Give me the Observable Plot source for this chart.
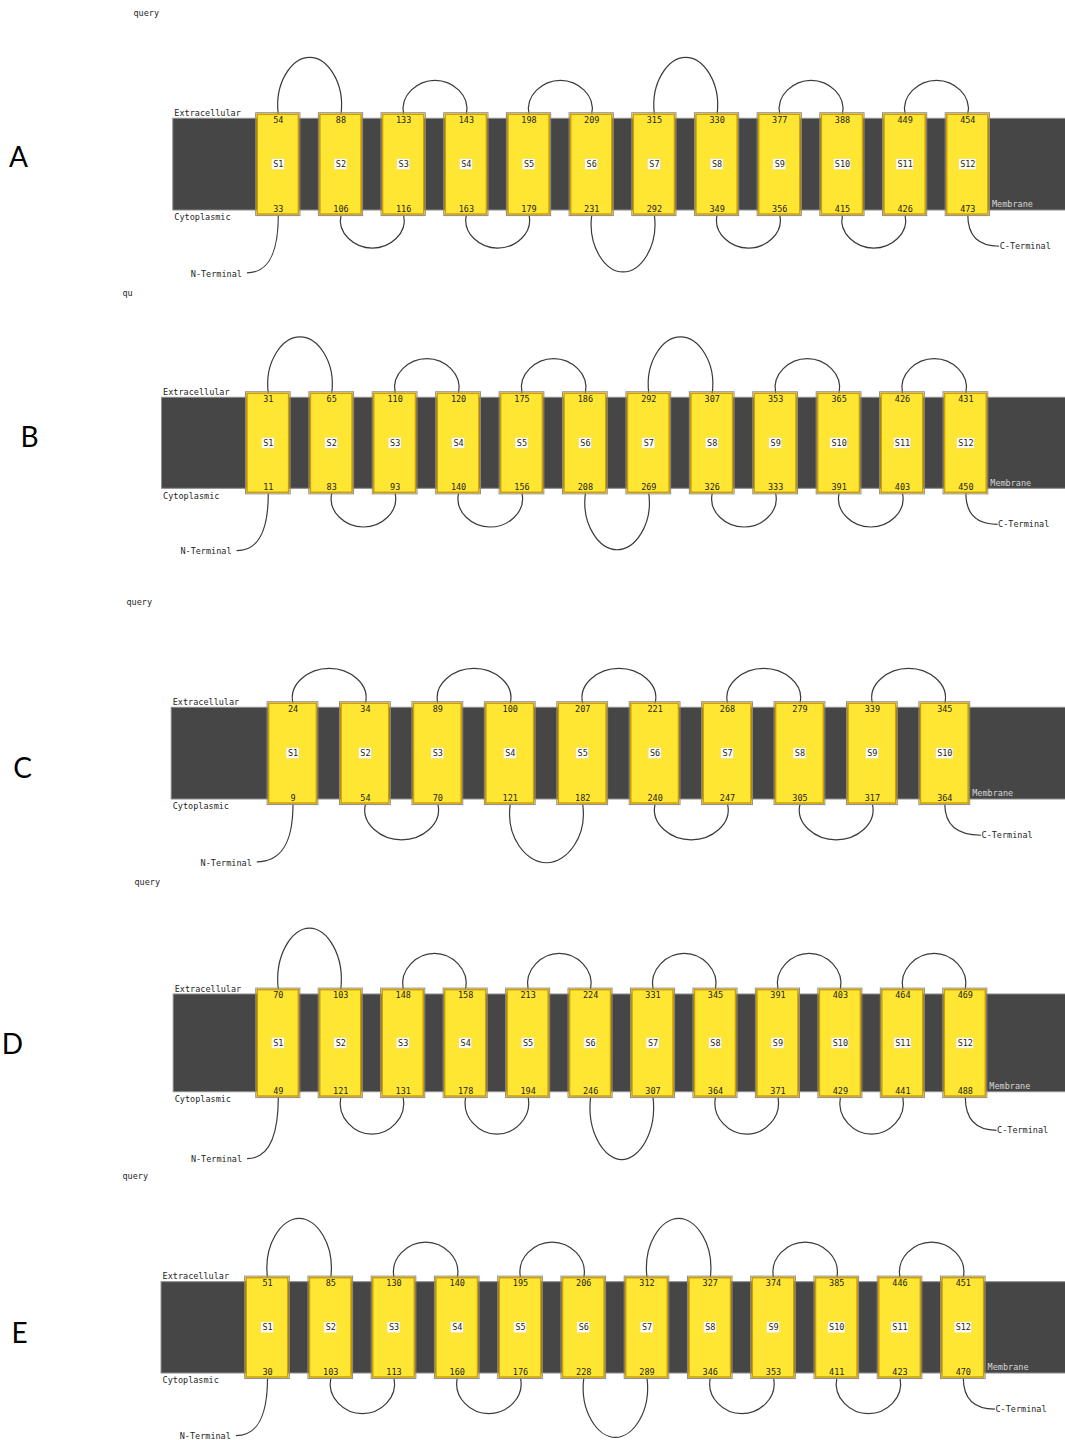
<!DOCTYPE html>
<html>
<head>
<meta charset="utf-8">
<script src="https://cdn.jsdelivr.net/npm/d3@7"></script>
<script src="https://cdn.jsdelivr.net/npm/@observablehq/plot@0.6"></script>
<style>
  html, body { margin: 0; padding: 0; background: #fff; }
  #chart { width: 1065px; }
  #chart svg { display: block; }
</style>
</head>
<body>
<div id="chart"></div>
<script>
// ---------- DATA ----------
const panelIds = ["A", "B", "C", "D", "E"];
const queryLabels = ["query", "qu", "query", "query", "query"];

// residue numbers at the extracellular (top) and cytoplasmic (bottom) end of each helix
const topA = [54, 88, 133, 143, 198, 209, 315, 330, 377, 388, 449, 454];
const botA = [33, 106, 116, 163, 179, 231, 292, 349, 356, 415, 426, 473];
const topB = [31, 65, 110, 120, 175, 186, 292, 307, 353, 365, 426, 431];
const botB = [11, 83, 93, 140, 156, 208, 269, 326, 333, 391, 403, 450];
const topC = [24, 34, 89, 100, 207, 221, 268, 279, 339, 345];
const botC = [9, 54, 70, 121, 182, 240, 247, 305, 317, 364];
const topD = [70, 103, 148, 158, 213, 224, 331, 345, 391, 403, 464, 469];
const botD = [49, 121, 131, 178, 194, 246, 307, 364, 371, 429, 441, 488];
const topE = [51, 85, 130, 140, 195, 206, 312, 327, 374, 385, 446, 451];
const botE = [30, 103, 113, 160, 176, 228, 289, 346, 353, 411, 423, 470];

// loop apex heights (membrane thickness units; 0 = cytoplasmic face, 1 = extracellular face)
const extA = [1.67, 1.42, 1.42, 1.67, 1.42, 1.42];
const cytA = [-0.41, -0.41, -0.67, -0.41, -0.41];
const extB = [1.67, 1.43, 1.43, 1.67, 1.43, 1.43];
const cytB = [-0.42, -0.42, -0.67, -0.42, -0.42];
const extC = [1.43, 1.43, 1.43, 1.43, 1.43];
const cytC = [-0.44, -0.69, -0.44, -0.44];
const extD = [1.68, 1.42, 1.42, 1.42, 1.42, 1.42];
const cytD = [-0.43, -0.43, -0.69, -0.43, -0.43];
const extE = [1.70, 1.44, 1.44, 1.70, 1.44, 1.44];
const cytE = [-0.44, -0.44, -0.70, -0.44, -0.44];

// terminal tail end points (helix-step units, membrane units)
const nTermEnd = [-0.5, -0.68];
const cTermEnd = [0.5, -0.39];

const tops = [topA, topB, topC, topD, topE];
const bots = [botA, botB, botC, botD, botE];
const exts = [extA, extB, extC, extD, extE];
const cyts = [cytA, cytB, cytC, cytD, cytE];

// ---------- LAYOUT (pixels) ----------
const layout = [
  {height: 285, xr: [277.8, 967.3], yr: [210.0, 118.3], query: [133, 13], letter: [18, 158]},
  {height: 305, xr: [267.8, 965.4], yr: [203.3, 112.3], query: [122, 8],  letter: [29, 153]},
  {height: 280, xr: [292.5, 944.3], yr: [209.0, 117.3], query: [126, 12], letter: [22, 179]},
  {height: 295, xr: [277.8, 964.8], yr: [221.7, 124.0], query: [134, 12], letter: [12, 175]},
  {height: 275, xr: [267.0, 962.8], yr: [208.0, 116.7], query: [122, 11], letter: [19, 169]}
];

const MONO = "'DejaVu Sans Mono', monospace";
const FS = 8.5;
const HALF = 0.337;      // half helix box width in step units
const BOX = 0.05;        // helix box overhang beyond the membrane
const BAND_LEFT = -0.675;

// arch between two helix ends: point 1 = start (x, face), point 2 = (end x, apex)
function arch(ctx) {
  let p = [];
  return {
    areaStart() {}, areaEnd() {},
    lineStart() { p = []; },
    point(x, y) { p.push([+x, +y]); },
    lineEnd() {
      if (p.length < 2) return;
      const [[xa, ya], [xb, yb]] = p;
      const xm = (xa + xb) / 2, half = (xb - xa) / 2, h = yb - ya, k = half * 0.13;
      ctx.moveTo(xa, ya);
      ctx.bezierCurveTo(xa - k, ya + h * 0.56, xm - half * 0.56, yb, xm, yb);
      ctx.bezierCurveTo(xm + half * 0.56, yb, xb + k, ya + h * 0.56, xb, ya);
    }
  };
}
// tail: leaves vertically, arrives horizontally
function elbow(ctx) {
  let p = [];
  return {
    areaStart() {}, areaEnd() {},
    lineStart() { p = []; },
    point(x, y) { p.push([+x, +y]); },
    lineEnd() {
      if (p.length < 2) return;
      const [[x0, y0], [x1, y1]] = p;
      ctx.moveTo(x0, y0);
      ctx.bezierCurveTo(x0, y0 + (y1 - y0) * 0.75, x0 + (x1 - x0) * 0.4, y1, x1, y1);
    }
  };
}

const chart = document.getElementById("chart");

panelIds.forEach((id, pi) => {
  const L = layout[pi];
  const n = tops[pi].length;
  const helices = d3.range(n).map(j => ({i: j + 1, label: "S" + (j + 1), top: tops[pi][j], bot: bots[pi][j]}));
  const ext = exts[pi].map((apex, k) => ({a: 2 * k + 1, b: 2 * k + 2, apex}));
  const cyt = cyts[pi].map((apex, k) => ({a: 2 * k + 2, b: 2 * k + 3, apex}));
  const loopStyle = {stroke: "#3a3a3a", strokeWidth: 1.2, fill: "none"};
  const textStyle = {fontFamily: MONO, fontSize: FS, fill: "#1e1e1e", lineAnchor: "middle"};

  const svg = Plot.plot({
    width: 1065,
    height: L.height,
    margin: 0,
    x: {domain: [1, n], range: L.xr, axis: null},
    y: {domain: [0, 1], range: L.yr, axis: null},
    style: {background: "#fff"},
    marks: [
      // membrane band
      Plot.rect([{}], {x1: 1 + BAND_LEFT - 1, x2: n + 3, y1: 0, y2: 1, fill: "#464646", stroke: "#8a8a8a", strokeWidth: 1}),
      // loops
      Plot.link(ext, {x1: "a", x2: "b", y1: 1 + BOX, y2: "apex", curve: arch, ...loopStyle}),
      Plot.link(cyt, {x1: "a", x2: "b", y1: -BOX, y2: "apex", curve: arch, ...loopStyle}),
      // tails
      Plot.link([{}], {x1: 1, y1: -BOX, x2: 1 + nTermEnd[0], y2: nTermEnd[1], curve: elbow, ...loopStyle}),
      Plot.link([{}], {x1: n, y1: -BOX, x2: n + cTermEnd[0], y2: cTermEnd[1], curve: elbow, ...loopStyle}),
      // helix boxes
      Plot.rect(helices, {x1: d => d.i - HALF, x2: d => d.i + HALF, y1: -BOX, y2: 1 + BOX,
        fill: "none", stroke: "#8c8c8c", strokeWidth: 1, inset: -1}),
      Plot.rect(helices, {x1: d => d.i - HALF, x2: d => d.i + HALF, y1: -BOX, y2: 1 + BOX,
        fill: "#ffe633", stroke: "#cf9f00", strokeWidth: 1.6, inset: 0.5}),
      // helix label backgrounds
      Plot.rect(helices.filter(d => d.label.length === 2), {x1: "i", x2: "i", y1: 0.5, y2: 0.5,
        insetLeft: -6.5, insetRight: -6.5, insetTop: -5.5, insetBottom: -5.5, fill: "#fffdf2", stroke: "#f2dc6a", strokeWidth: 0.6}),
      Plot.rect(helices.filter(d => d.label.length === 3), {x1: "i", x2: "i", y1: 0.5, y2: 0.5,
        insetLeft: -8.7, insetRight: -8.7, insetTop: -5.5, insetBottom: -5.5, fill: "#fffdf2", stroke: "#f2dc6a", strokeWidth: 0.6}),
      // helix texts
      Plot.text(helices, {x: "i", y: 1 + BOX, text: d => String(d.top), dy: 6, ...textStyle}),
      Plot.text(helices, {x: "i", y: -BOX, text: d => String(d.bot), dy: -6, ...textStyle}),
      Plot.text(helices, {x: "i", y: 0.5, text: "label", dy: -0.5, ...textStyle}),
      // side labels
      Plot.text(["Extracellular"], {x: 1 + BAND_LEFT - 1, y: 1, text: d => d, textAnchor: "start", dx: 1, dy: -5.6, ...textStyle}),
      Plot.text(["Cytoplasmic"], {x: 1 + BAND_LEFT - 1, y: 0, text: d => d, textAnchor: "start", dx: 1, dy: 7, ...textStyle}),
      Plot.text(["Membrane"], {x: n + HALF, y: 0, text: d => d, textAnchor: "start", dx: 3, dy: -6, ...textStyle, fill: "#d6d6d6"}),
      Plot.text(["N-Terminal"], {x: 1 + nTermEnd[0], y: nTermEnd[1], text: d => d, textAnchor: "end", dx: -5, dy: 1, ...textStyle}),
      Plot.text(["C-Terminal"], {x: n + cTermEnd[0], y: cTermEnd[1], text: d => d, textAnchor: "start", dx: 0.5, dy: 0, ...textStyle}),
      // "query" caption and panel letter
      Plot.text([queryLabels[pi]], {frameAnchor: "top-left", text: d => d, textAnchor: "start",
        dx: L.query[0], dy: L.query[1], ...textStyle}),
      Plot.text([id], {frameAnchor: "top-left", text: d => d, textAnchor: "middle", lineAnchor: "middle",
        dx: L.letter[0], dy: L.letter[1], fontFamily: "Lato, 'Liberation Sans', sans-serif", fontSize: 28, fill: "#000"})
    ]
  });
  chart.appendChild(svg);
});
</script>
</body>
</html>
